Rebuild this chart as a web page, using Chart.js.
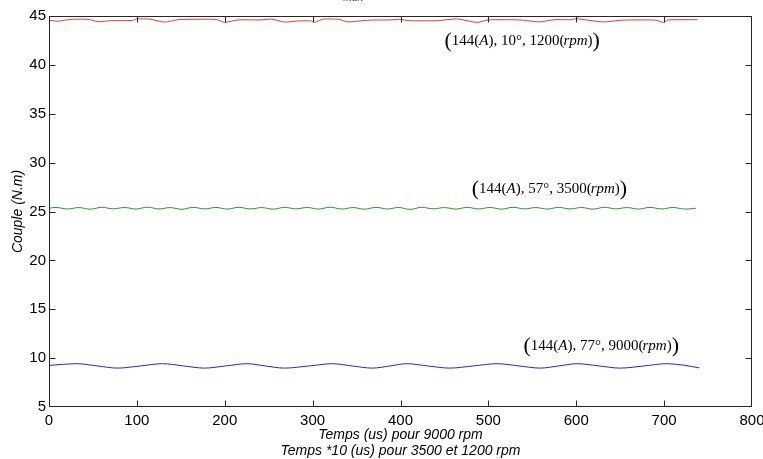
<!DOCTYPE html>
<html>
<head>
<meta charset="utf-8">
<script src="https://cdn.jsdelivr.net/npm/chart.js@4.4.1/dist/chart.umd.min.js"></script>
<style>
  html, body { margin: 0; padding: 0; background: #fff; }
  #wrap { width: 763px; height: 459px; }
</style>
</head>
<body>
<div id="wrap"><canvas id="coupleChart"></canvas></div>
<script>
// axis ticks
const xTicks = [0, 100, 200, 300, 400, 500, 600, 700, 800];
const yTicks = [5, 10, 15, 20, 25, 30, 35, 40, 45];

// 1200 rpm, 10 deg (red)
const redTime = [0, 10, 25, 45, 55, 70, 95, 100, 115, 131, 148, 190, 200, 215, 240, 253, 268, 285, 298, 302,
  312, 330, 340, 365, 388, 399, 410, 442, 464, 487, 500, 535, 558, 575, 595, 600, 630, 655, 690, 699, 705, 738];
const redCouple = [44.57, 44.47, 44.66, 44.66, 44.42, 44.52, 44.55, 44.70, 44.68, 44.38, 44.63, 44.65, 44.35, 44.60,
  44.60, 44.68, 44.38, 44.50, 44.50, 44.35, 44.68, 44.66, 44.40, 44.58, 44.60, 44.66, 44.52, 44.52, 44.70, 44.35,
  44.60, 44.60, 44.40, 44.62, 44.62, 44.73, 44.40, 44.58, 44.58, 44.35, 44.60, 44.62];

// 3500 rpm, 57 deg (green)
const greenTime = [0, 8, 21, 34, 47, 60, 73, 86, 99, 112, 125, 138, 151, 164, 177, 190, 203, 216, 229, 242,
  255, 268, 281, 294, 307, 320, 333, 346, 359, 372, 385, 398, 411, 424, 437, 450, 463, 476, 489, 502,
  515, 528, 541, 554, 567, 580, 593, 606, 619, 632, 645, 658, 671, 684, 697, 710, 723, 736];
const greenCouple = [25.33, 25.42, 25.26, 25.40, 25.24, 25.43, 25.27, 25.41, 25.25, 25.44, 25.26, 25.40, 25.23, 25.42,
  25.27, 25.41, 25.25, 25.43, 25.26, 25.40, 25.24, 25.42, 25.27, 25.41, 25.25, 25.44, 25.25, 25.40, 25.24, 25.42,
  25.26, 25.41, 25.22, 25.43, 25.27, 25.40, 25.25, 25.42, 25.26, 25.41, 25.24, 25.43, 25.27, 25.40, 25.25, 25.42,
  25.26, 25.41, 25.24, 25.43, 25.27, 25.40, 25.25, 25.42, 25.26, 25.41, 25.25, 25.33];

// 9000 rpm, 77 deg (blue)
const blueTime = [0, 15, 32, 55, 78, 104, 129, 153, 177, 201, 225, 246, 268, 296, 323, 345, 368, 388, 407, 431,
  456, 483, 510, 535, 559, 580, 601, 626, 650, 677, 703, 722, 740];
const blueCouple = [9.25, 9.36, 9.43, 9.20, 8.98, 9.20, 9.43, 9.20, 8.98, 9.20, 9.43, 9.20, 8.98, 9.20, 9.43, 9.20,
  8.98, 9.20, 9.43, 9.20, 8.98, 9.20, 9.43, 9.20, 8.98, 9.20, 9.43, 9.20, 8.98, 9.20, 9.43, 9.28, 9.00];

const labelTexts = [
  { angle: '10°', speed: '1200' },
  { angle: '57°', speed: '3500' },
  { angle: '77°', speed: '9000' }
];
const labelAt = [[450, 42.4], [481, 27.25], [540, 11.2]];

function toPoints(xs, ys) {
  return xs.map((t, i) => ({ x: t, y: ys[i] }));
}

// box + inward ticks on four sides, like the matlab axes
const matlabBox = {
  id: 'matlabBox',
  afterDraw(chart) {
    const { ctx, chartArea: a, scales: { x, y } } = chart;
    const l = Math.round(a.left) + 0.5, r = Math.round(a.right) - 0.5;
    const t = Math.round(a.top) + 0.5, b = Math.round(a.bottom) - 0.5;
    ctx.save();
    ctx.strokeStyle = '#262626';
    ctx.lineWidth = 1;
    ctx.strokeRect(l, t, r - l, b - t);
    ctx.beginPath();
    xTicks.forEach(v => {
      const px = Math.round(x.getPixelForValue(v)) + 0.5;
      if (px <= l + 1 || px >= r - 1) return;
      ctx.moveTo(px, b); ctx.lineTo(px, b - 6);
      ctx.moveTo(px, t); ctx.lineTo(px, t + 6);
    });
    yTicks.forEach(v => {
      const py = Math.round(y.getPixelForValue(v)) + 0.5;
      if (py <= t + 1 || py >= b - 1) return;
      ctx.moveTo(l, py); ctx.lineTo(l + 6, py);
      ctx.moveTo(r, py); ctx.lineTo(r - 6, py);
    });
    ctx.stroke();

    // clipped title at the very top, only the bottom pixels show
    ctx.fillStyle = '#555';
    ctx.textBaseline = 'alphabetic';
    ctx.font = '16px "Liberation Serif"';
    ctx.fillText('= I', 306, 0);
    ctx.font = 'italic 12px "Liberation Serif"';
    ctx.fillText('max', 343, 1);
    ctx.restore();
  }
};

// the (144(A), xx°, xxxx(rpm)) notes
const operatingPoints = {
  id: 'operatingPoints',
  afterDatasetsDraw(chart) {
    const { ctx, scales: { x, y } } = chart;
    ctx.save();
    ctx.fillStyle = '#000';
    ctx.textBaseline = 'middle';
    labelTexts.forEach((lab, i) => {
      let px = x.getPixelForValue(labelAt[i][0]);
      const py = y.getPixelForValue(labelAt[i][1]);
      const parts = [
        ['(', '22px "Liberation Serif"', 0],
        ['144(', '15px "Liberation Serif"', 0],
        ['A', 'italic 15px "Liberation Serif"', 0],
        ['), ' + lab.angle + ', ' + lab.speed + '(', '15px "Liberation Serif"', -1],
        ['rpm', 'italic 15px "Liberation Serif"', 0],
        [')', '15px "Liberation Serif"', 0],
        [')', '22px "Liberation Serif"', 0]
      ];
      parts.forEach(p => {
        ctx.font = p[1];
        ctx.fillText(p[0], px, py);
        px += ctx.measureText(p[0]).width + p[2];
      });
    });
    ctx.restore();
  }
};

const lineStyle = { borderWidth: 1, pointRadius: 0, fill: false };

new Chart(document.getElementById('coupleChart'), {
  type: 'line',
  data: {
    datasets: [
      { ...lineStyle, data: toPoints(redTime, redCouple), borderColor: 'rgb(240, 50, 50)', tension: 0.2 },
      { ...lineStyle, data: toPoints(greenTime, greenCouple), borderColor: 'rgb(40, 150, 40)', tension: 0.4 },
      { ...lineStyle, data: toPoints(blueTime, blueCouple), borderColor: 'rgb(35, 35, 235)', cubicInterpolationMode: 'monotone' }
    ]
  },
  options: {
    responsive: true,
    maintainAspectRatio: false,
    animation: false,
    layout: { padding: { top: 16, right: 11, left: 0, bottom: 0 } },
    plugins: { legend: { display: false }, tooltip: { enabled: false } },
    scales: {
      x: {
        type: 'linear', min: 0, max: 800,
        grid: { display: false, drawTicks: false }, border: { display: false },
        ticks: { stepSize: 100, padding: 5, color: '#000', font: { family: 'Liberation Sans', size: 15 } },
        title: {
          display: true,
          text: ['Temps (us) pour 9000 rpm', 'Temps *10 (us) pour 3500 et 1200 rpm'],
          color: '#000',
          font: { family: 'Liberation Sans', size: 14, style: 'italic', lineHeight: '16px' },
          padding: { top: 0, bottom: 0 }
        },
        afterFit(s) { s.height = 52; s.paddingLeft = 0; s.paddingRight = 0; }
      },
      y: {
        min: 5, max: 45,
        grid: { display: false, drawTicks: false }, border: { display: false },
        ticks: { stepSize: 5, padding: 3, color: '#000', font: { family: 'Liberation Sans', size: 15 } },
        title: {
          display: true,
          text: 'Couple (N.m)',
          color: '#000',
          font: { family: 'Liberation Sans', size: 14, style: 'italic', lineHeight: '16px' },
          padding: { top: 10, bottom: 0 }
        },
        afterFit(s) { s.width = 49; s.paddingTop = 0; s.paddingBottom = 0; }
      }
    }
  },
  plugins: [matlabBox, operatingPoints]
});
</script>
</body>
</html>
